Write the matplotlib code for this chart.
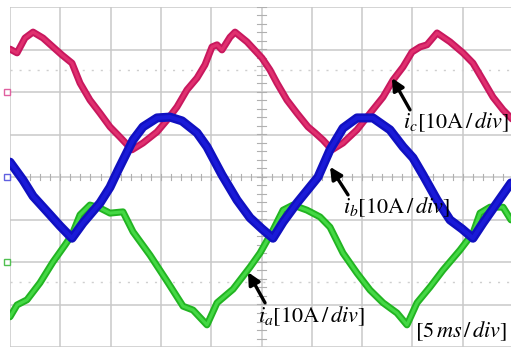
import matplotlib
matplotlib.use("Agg")
import matplotlib.pyplot as plt
import numpy as np

plt.rcParams['mathtext.fontset'] = 'stix'
plt.rcParams['font.family'] = ['STIXGeneral', 'DejaVu Serif']

# ---- data (time in ms, currents in A); 5 ms/div, 10 A/div ----
t_c = [0.0, 0.70, 1.49, 2.29, 3.28, 4.27, 5.17, 6.16, 6.96, 7.95, 8.95, 9.94, 10.93, 12.13,
       13.22, 14.61, 15.61, 16.60, 17.59, 18.59, 19.38, 20.08, 20.58, 21.07, 21.87, 22.37,
       23.56, 25.05, 25.84, 26.54, 27.53, 28.53, 29.62, 30.32, 31.11, 32.01, 33.10, 34.49,
       35.79, 37.08, 38.07, 39.07, 39.96, 40.76, 41.45, 42.45, 43.74, 45.03, 46.02, 47.02,
       48.01, 49.01, 50.0]
i_c = [10.1, 9.2, 12.7, 14.1, 12.7, 10.6, 8.7, 6.8, 2.1, -1.9, -5.0, -8.2, -10.6, -13.6,
       -12.0, -9.4, -6.6, -3.5, 0.5, 3.3, 6.4, 10.6, 11.1, 9.9, 12.9, 14.1,
       11.8, 8.0, 5.2, 2.1, -1.9, -5.0, -8.2, -9.6, -11.3, -13.6, -12.0, -8.9,
       -5.0, -1.2, 2.8, 5.9, 9.4, 10.6, 11.1, 13.9, 11.8, 9.2, 6.8, 2.8,
       -1.2, -4.2, -6.6]

t_b = [0.0, 1.29, 2.29, 3.98, 4.97, 6.16, 7.26, 8.95, 9.94, 10.74, 12.23, 13.22, 14.61,
       15.90, 17.10, 18.59, 19.58, 21.07, 22.56, 23.86, 25.05, 26.14, 27.14, 28.53, 30.62,
       31.81, 33.10, 34.49, 36.08, 37.77, 39.07, 40.06, 41.05, 42.45, 43.74, 44.93, 46.02,
       47.02, 48.41, 49.80]
i_b = [3.5, -0.7, -4.5, -8.9, -11.5, -14.4, -10.8, -6.1, -2.4, 1.6, 8.7, 11.8, 13.9,
       14.1, 13.2, 10.4, 7.1, 0.5, -5.4, -9.6, -12.2, -14.4, -10.6, -6.1, 0.0,
       6.4, 11.5, 13.9, 13.9, 11.1, 7.1, 4.5, 0.5, -5.4, -10.1, -12.2, -14.4,
       -10.8, -6.1, -1.4]

t_a = [0.0, 0.70, 1.69, 2.98, 4.27, 5.47, 6.16, 6.96, 7.95, 8.95, 9.94, 11.23, 12.23,
       13.92, 15.61, 17.20, 18.19, 19.58, 20.58, 22.17, 23.86, 24.85, 26.14, 27.14, 28.13,
       29.52, 30.82, 31.81, 33.10, 34.49, 35.79, 37.08, 38.47, 39.46, 40.46, 41.75, 43.04,
       44.73, 46.02, 46.72, 47.71, 49.01, 49.80]
i_a = [-12.9, -10.1, -8.9, -4.9, 0.0, 4.0, 6.4, 11.1, 13.4, 12.7, 11.5, 11.8, 7.1,
       1.6, -4.5, -10.4, -11.3, -14.8, -9.6, -6.4, -1.2, 2.1, 7.5, 12.2, 13.4,
       12.2, 10.6, 8.2, 2.1, -2.6, -6.6, -9.6, -12.0, -14.8, -9.6, -5.9, -1.9,
       2.8, 6.8, 11.5, 12.9, 12.9, 9.9]

channel_offset_div = {'c': 2.0, 'b': 0.0, 'a': -2.0}
amps_per_div = 10.0
ms_per_div = 5.0

labels = {'c': r"$i_c$[10A$\,/\,$$div$]",
          'b': r"$i_b$[10A$\,/\,$$div$]",
          'a': r"$i_a$[10A$\,/\,$$div$]"}
time_label = r"[5$\,ms\,/\,div$]"

# ---- figure ----
W, H = 511, 348
fig = plt.figure(figsize=(W / 100, H / 100), dpi=100)
ax = fig.add_axes([10 / W, 1 - 347 / H, 503 / W, 340 / H])
ax.set_xlim(0, 10 * ms_per_div)
ax.set_ylim(-4, 4)
ax.axis('off')

grid_c = '#c9c9c9'
for k in range(0, 11):
    ax.axvline(k * ms_per_div, color=grid_c, lw=1.1, zorder=1)
for k in range(-4, 5):
    ax.axhline(k, color=grid_c, lw=1.1, zorder=1)
# dotted level lines
for lvl in (2.52, -2.47):
    ax.axhline(lvl, color='#cfcfcf', lw=1.0, ls=(0, (1.5, 5)), zorder=1)
# centre-line minor ticks
for tt in np.arange(0, 50.01, 1.0):
    ax.plot([tt, tt], [-0.06, 0.06], color='#b0b0b0', lw=0.8, zorder=1)
for yy in np.arange(-4, 4.01, 0.2):
    ax.plot([24.6, 25.4], [yy, yy], color='#b0b0b0', lw=0.8, zorder=1)

def trace(t, i, off, dark, light, lw):
    y = np.array(i) / amps_per_div + off
    ax.plot(t, y, color=dark, lw=lw, solid_capstyle='round', solid_joinstyle='round', zorder=3)
    ax.plot(t, y, color=light, lw=lw * 0.45, solid_capstyle='round', solid_joinstyle='round', zorder=3)

trace(t_c, i_c, channel_offset_div['c'], '#c8185e', '#e0306f', 5.0)
trace(t_a, i_a, channel_offset_div['a'], '#22b422', '#44d844', 5.0)
trace(t_b, i_b, channel_offset_div['b'], '#1010c0', '#1a1ad8', 6.5)

# channel ground markers
for key, col in (('c', '#e060a0'), ('b', '#6060e0'), ('a', '#50c050')):
    ax.plot([-0.25], [channel_offset_div[key]], marker='s', ms=4, mfc='white', mec=col,
            mew=1.0, clip_on=False, zorder=4)

# annotations
def arrow(head, tail):
    ax.annotate('', xy=head, xytext=tail,
                arrowprops=dict(arrowstyle='-|>', color='black', lw=2.4,
                                mutation_scale=18, shrinkA=0, shrinkB=0), zorder=5)

arrow((37.97, 2.33), (39.76, 1.58))
arrow((31.81, 0.24), (33.60, -0.42))
arrow((23.66, -2.24), (25.35, -2.96))

fs = 16
ax.text(39.07, 1.15, labels['c'], fontsize=fs, va='baseline', ha='left', zorder=6)
ax.text(33.10, -0.85, labels['b'], fontsize=fs, va='baseline', ha='left', zorder=6)
ax.text(24.65, -3.41, labels['a'], fontsize=fs, va='baseline', ha='left', zorder=6)
ax.text(40.26, -3.76, time_label, fontsize=fs, va='baseline', ha='left', zorder=6)

fig.savefig('out.png', dpi=100)
